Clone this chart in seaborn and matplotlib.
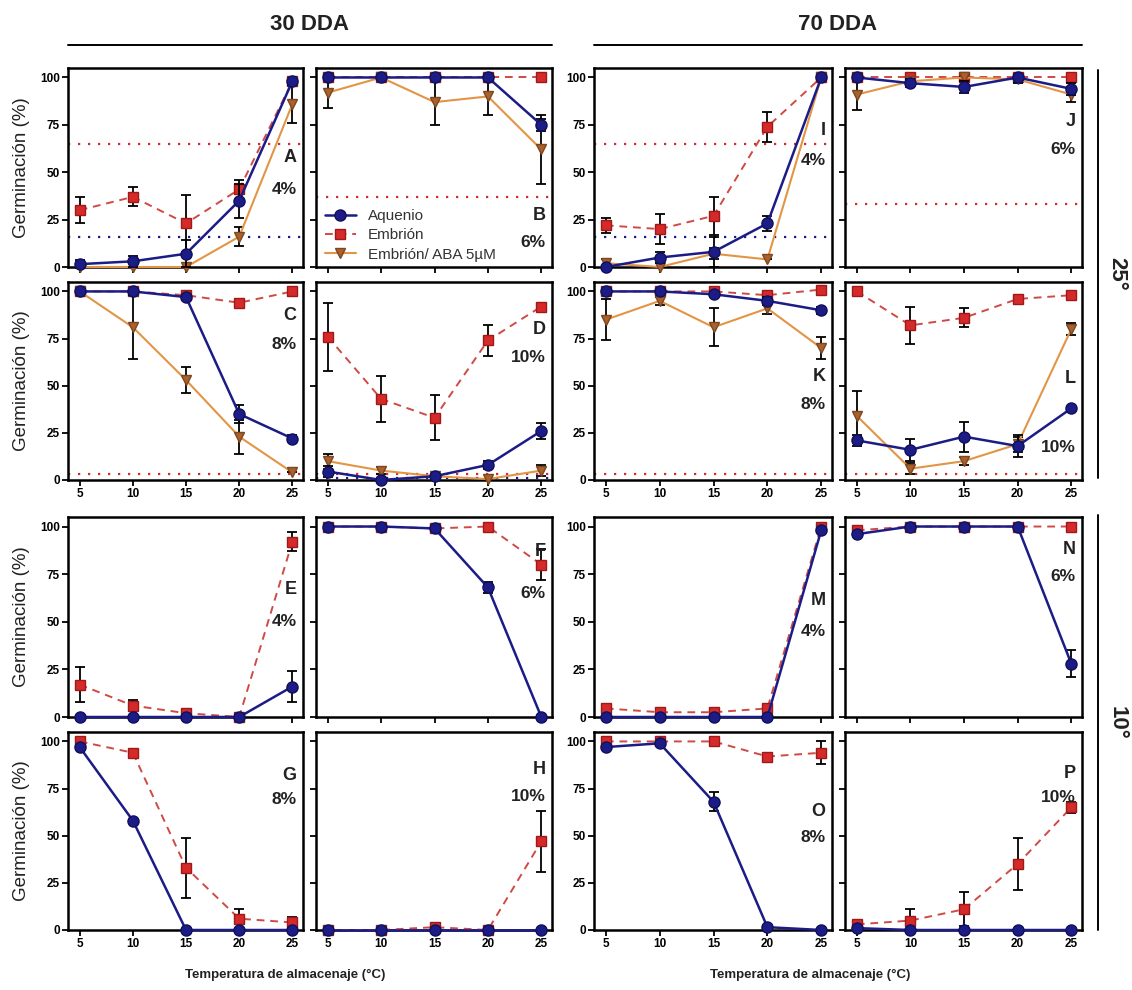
import matplotlib
matplotlib.use("Agg")
import matplotlib.pyplot as plt
from matplotlib.lines import Line2D
import seaborn as sns

# Storage temperature (°C)
temps = [5, 10, 15, 20, 25]

# ---- 30 DDA, 25 °C ----
A_aq = [1.5, 3, 7, 35, 98];      A_aq_sd = [2, 3, 7, 9, 0]
A_em = [30, 37, 23, 41, 98];     A_em_sd = [7, 5, 15, 5, 0]
A_aba = [0, 0, 0, 16, 86];       A_aba_sd = [0, 0, 0, 5, 10]
A_ref_em, A_ref_aq = 65, 16

B_aq = [100, 100, 100, 100, 75]; B_aq_sd = [0, 0, 0, 0, 3]
B_em = [100, 100, 100, 100, 100]; B_em_sd = [0, 0, 0, 0, 0]
B_aba = [92, 100, 87, 90, 62];   B_aba_sd = [8, 0, 12, 10, 18]
B_ref_em = 37

C_aq = [100, 100, 97, 35, 22];   C_aq_sd = [0, 0, 0, 5, 2]
C_em = [100, 100, 98, 94, 100];  C_em_sd = [0, 0, 0, 0, 0]
C_aba = [100, 81, 53, 23, 4];    C_aba_sd = [0, 17, 7, 9, 0]
C_ref_em = 3

D_aq = [4.5, 0, 2, 8, 26];       D_aq_sd = [3, 0, 1, 2, 4]
D_em = [76, 43, 33, 74, 92];     D_em_sd = [18, 12, 12, 8, 0]
D_aba = [10, 5, 2, 0.5, 5];      D_aba_sd = [4, 2, 0, 0, 3]
D_ref_em, D_ref_aq = 3, 1

# ---- 70 DDA, 25 °C ----
I_aq = [0, 5, 8, 23, 100];       I_aq_sd = [0, 3, 8, 4, 0]
I_em = [22, 20, 27, 74, 100];    I_em_sd = [4, 8, 10, 8, 0]
I_aba = [2, 0, 7, 4, 100];       I_aba_sd = [2, 0, 3, 0, 0]
I_ref_em, I_ref_aq = 65, 16

J_aq = [100, 97, 95, 100, 94];   J_aq_sd = [0, 2, 3, 0, 3]
J_em = [100, 100, 100, 100, 100]; J_em_sd = [0, 0, 0, 0, 0]
J_aba = [91, 98, 100, 99, 91];   J_aba_sd = [8, 0, 0, 2, 4]
J_ref_em = 33

K_aq = [100, 100, 98.5, 95, 90]; K_aq_sd = [0, 0, 1, 2, 2]
K_em = [100, 100, 100, 98, 101]; K_em_sd = [0, 0, 0, 0, 0]
K_aba = [85, 95, 81, 91, 70];    K_aba_sd = [11, 2, 10, 3, 6]
K_ref_em = 3

L_aq = [21, 16, 23, 18, 38];     L_aq_sd = [3, 6, 8, 6, 0]
L_em = [100, 82, 86, 96, 98];    L_em_sd = [0, 10, 5, 0, 0]
L_aba = [34, 6, 10, 19, 80];     L_aba_sd = [13, 3, 2, 4, 3]
L_ref_em = 3

# ---- 30 DDA, 10 °C ----
E_aq = [0, 0, 0, 0, 16];         E_aq_sd = [0, 0, 0, 0, 8]
E_em = [17, 6, 2, 0, 92];        E_em_sd = [9, 3, 0, 0, 5]

F_aq = [100, 100, 99, 68, 0];    F_aq_sd = [0, 0, 0, 3, 0]
F_em = [100, 100, 99, 100, 80];  F_em_sd = [0, 0, 0, 0, 8]

G_aq = [97, 58, 0, 0, 0];        G_aq_sd = [0, 0, 0, 0, 0]
G_em = [100, 94, 33, 6, 4];      G_em_sd = [0, 0, 16, 5, 3]

H_aq = [0, 0, 0, 0, 0];          H_aq_sd = [0, 0, 0, 0, 0]
H_em = [0, 0, 1.5, 0, 47];       H_em_sd = [0, 0, 0, 0, 16]

# ---- 70 DDA, 10 °C ----
M_aq = [0, 0, 0, 0, 98];         M_aq_sd = [0, 0, 0, 0, 0]
M_em = [4.5, 2.5, 2.5, 4.5, 100]; M_em_sd = [0, 0, 0, 0, 0]

N_aq = [96, 100, 100, 100, 28];  N_aq_sd = [0, 0, 0, 0, 7]
N_em = [98, 100, 100, 100, 100]; N_em_sd = [0, 0, 0, 0, 0]

O_aq = [97, 99, 68, 1.5, 0];     O_aq_sd = [0, 0, 5, 0, 0]
O_em = [100, 100, 100, 92, 94];  O_em_sd = [0, 0, 0, 0, 6]

P_aq = [1, 0, 0, 0, 0];          P_aq_sd = [0, 0, 0, 0, 0]
P_em = [3, 5, 11, 35, 65];       P_em_sd = [2, 6, 9, 14, 3]

# Panel letter, water content label, grid position, series and label heights
panels = [
    ("A", "4%", 0, 0, A_aq, A_aq_sd, A_em, A_em_sd, A_aba, A_aba_sd, A_ref_em, A_ref_aq, 58, 41),
    ("B", "6%", 0, 1, B_aq, B_aq_sd, B_em, B_em_sd, B_aba, B_aba_sd, B_ref_em, None, 27, 13),
    ("I", "4%", 0, 2, I_aq, I_aq_sd, I_em, I_em_sd, I_aba, I_aba_sd, I_ref_em, I_ref_aq, 72, 56),
    ("J", "6%", 0, 3, J_aq, J_aq_sd, J_em, J_em_sd, J_aba, J_aba_sd, J_ref_em, None, 77, 62),
    ("C", "8%", 1, 0, C_aq, C_aq_sd, C_em, C_em_sd, C_aba, C_aba_sd, C_ref_em, None, 87, 72),
    ("D", "10%", 1, 1, D_aq, D_aq_sd, D_em, D_em_sd, D_aba, D_aba_sd, D_ref_em, D_ref_aq, 80, 65),
    ("K", "8%", 1, 2, K_aq, K_aq_sd, K_em, K_em_sd, K_aba, K_aba_sd, K_ref_em, None, 55, 40),
    ("L", "10%", 1, 3, L_aq, L_aq_sd, L_em, L_em_sd, L_aba, L_aba_sd, L_ref_em, None, 54, 17),
    ("E", "4%", 2, 0, E_aq, E_aq_sd, E_em, E_em_sd, None, None, None, None, 67, 50),
    ("F", "6%", 2, 1, F_aq, F_aq_sd, F_em, F_em_sd, None, None, None, None, 87, 65),
    ("M", "4%", 2, 2, M_aq, M_aq_sd, M_em, M_em_sd, None, None, None, None, 61, 45),
    ("N", "6%", 2, 3, N_aq, N_aq_sd, N_em, N_em_sd, None, None, None, None, 88, 74),
    ("G", "8%", 3, 0, G_aq, G_aq_sd, G_em, G_em_sd, None, None, None, None, 82, 69),
    ("H", "10%", 3, 1, H_aq, H_aq_sd, H_em, H_em_sd, None, None, None, None, 85, 71),
    ("O", "8%", 3, 2, O_aq, O_aq_sd, O_em, O_em_sd, None, None, None, None, 63, 49),
    ("P", "10%", 3, 3, P_aq, P_aq_sd, P_em, P_em_sd, None, None, None, None, 83, 70),
]

BLUE = "#1c1c86"
RED = "#d62a2a"
RED_LINE = "#cf4a45"
ORANGE = "#e29545"
BROWN = "#a8622c"

sns.set_theme(style="ticks")
plt.rcParams["font.family"] = ["Liberation Sans", "DejaVu Sans"]

W, H = 1132, 990
fig = plt.figure(figsize=(W / 100, H / 100), dpi=100)

col_px = [(68, 303), (316, 552), (594, 832), (845, 1082)]
row_px = [(68, 267), (282, 480), (517, 717), (732, 930)]


def add_series(ax, y, sd, color, marker, ls, lw, ms, mfc, mec, z, label=None):
    ax.errorbar(temps, y, yerr=sd, fmt="none", ecolor="black", elinewidth=1.3,
                capsize=3.5, capthick=1.3, zorder=z - 0.5, clip_on=False)
    sns.lineplot(x=temps, y=y, ax=ax, color=color, marker=marker, linestyle=ls,
                 linewidth=lw, markersize=ms, markerfacecolor=mfc,
                 markeredgecolor=mec, markeredgewidth=1.0, errorbar=None,
                 zorder=z, label=label, clip_on=False)


for (letter, wc, r, c, aq, aq_sd, em, em_sd, aba, aba_sd,
     ref_em, ref_aq, y_letter, y_wc) in panels:
    x0, x1 = col_px[c]
    y0, y1 = row_px[r]
    ax = fig.add_axes([x0 / W, 1 - y1 / H, (x1 - x0) / W, (y1 - y0) / H])

    if ref_em is not None:
        ax.axhline(ref_em, color=RED, linestyle=(0, (1, 3.5)), linewidth=1.6, zorder=1)
    if ref_aq is not None:
        ax.axhline(ref_aq, color=BLUE, linestyle=(0, (1, 3.5)), linewidth=1.6, zorder=1)

    show_legend = letter == "B"
    add_series(ax, em, em_sd, RED_LINE, "s", (0, (4, 3)), 1.4, 7.5, RED, "#9e1a1a", 3,
               "Embrión" if show_legend else None)
    if aba is not None:
        add_series(ax, aba, aba_sd, ORANGE, "v", "-", 1.5, 7.5, BROWN, "#7d4520", 4,
                   "Embrión/ ABA 5µM" if show_legend else None)
    add_series(ax, aq, aq_sd, BLUE, "o", "-", 1.8, 8, BLUE, "#10105a", 5,
               "Aquenio" if show_legend else None)

    ax.set_xlim(3.9, 26)
    ax.set_ylim(0, 105)
    ax.set_xticks(temps)
    ax.set_yticks([0, 25, 50, 75, 100])
    ax.tick_params(axis="both", direction="out", length=4, width=1.3, pad=2,
                   labelsize=8.5, colors="black")
    for lab in ax.get_xticklabels() + ax.get_yticklabels():
        lab.set_fontweight("bold")
    if r not in (1, 3):
        ax.set_xticklabels([])
    if c not in (0, 2):
        ax.set_yticklabels([])
    for sp in ax.spines.values():
        sp.set_visible(True)
        sp.set_linewidth(1.8)
        sp.set_color("black")
    ax.set_xlabel("")
    ax.set_ylabel("")
    if c == 0:
        ax.set_ylabel("Germinación (%)", fontsize=13.5, color="#222222")
        ax.yaxis.set_label_coords(-0.16, 0.5)

    ax.text(25.4, y_letter, letter, ha="right", va="center", fontsize=13,
            fontweight="bold", color="#222222", zorder=6)
    ax.text(25.4, y_wc, wc, ha="right", va="center", fontsize=12.5,
            fontweight="bold", color="#222222", zorder=6)

    if show_legend:
        handles, labels = ax.get_legend_handles_labels()
        order = [labels.index(n) for n in ["Aquenio", "Embrión", "Embrión/ ABA 5µM"]]
        ax.legend([handles[i] for i in order], [labels[i] for i in order],
                  loc="lower left", bbox_to_anchor=(0.0, -0.02), frameon=False,
                  fontsize=11, handlelength=2.0, handletextpad=0.8,
                  labelspacing=0.35, borderaxespad=0.2, labelcolor="#333333")
    elif ax.get_legend() is not None:
        ax.get_legend().remove()

# Column headers with rules
for text, (xa, xb) in [("30 DDA", (68, 552)), ("70 DDA", (594, 1082))]:
    fig.text((xa + xb) / 2 / W, 1 - 24 / H, text, ha="center", va="center",
             fontsize=16, fontweight="bold", color="#222222")
    fig.add_artist(Line2D([xa / W, xb / W], [1 - 45 / H, 1 - 45 / H],
                          color="black", linewidth=1.4))

# Row group labels with vertical rules
for text, (ya, yb) in [("25°", (70, 478)), ("10°", (515, 930))]:
    fig.add_artist(Line2D([1098 / W, 1098 / W], [1 - ya / H, 1 - yb / H],
                          color="black", linewidth=1.4))
    fig.text(1117 / W, 1 - (ya + yb) / 2 / H, text, ha="center", va="center",
             rotation=270, fontsize=16, fontweight="bold", color="#222222")

# Shared x-axis titles
for xc in (285, 810):
    fig.text(xc / W, 1 - 975 / H, "Temperatura de almacenaje (°C)", ha="center",
             va="center", fontsize=9.5, fontweight="bold", color="#222222")

fig.savefig("out.png", dpi=100, facecolor="white")
